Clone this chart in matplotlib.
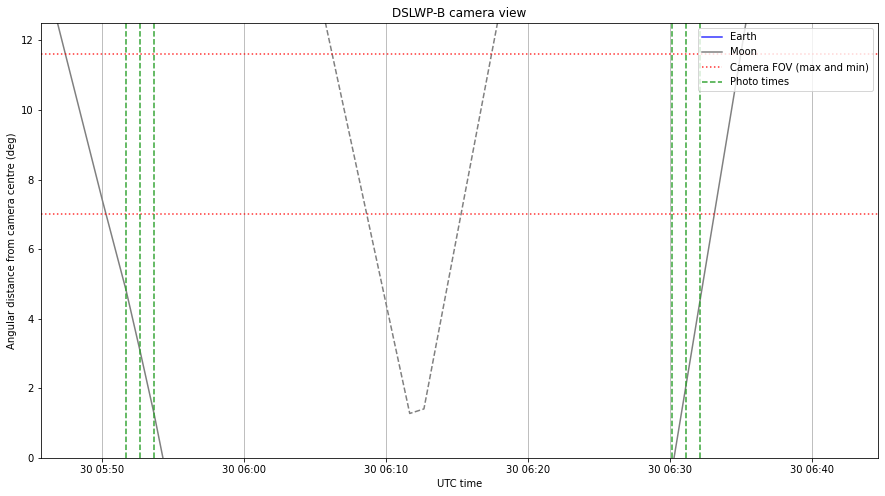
import matplotlib
matplotlib.use("Agg")
import matplotlib.pyplot as plt
import matplotlib.dates as mdates
import pandas as pd

DAY = "2018-06-30 "

# Moon (solid, visible segments)
moon1_times = ["05:46:00", "05:50:00", "05:51:40", "05:52:40", "05:53:40", "05:54:16"]
moon1_vals = [13.84, 7.4, 4.82, 3.05, 1.22, 0.0]
moon2_times = ["06:30:18", "06:36:00"]
moon2_vals = [0.0, 14.06]

# Moon (dashed segment)
moon_dash_times = ["06:04:40", "06:11:40", "06:12:40", "06:18:40"]
moon_dash_vals = [14.5, 1.28, 1.41, 14.24]

# Earth (not in visible range)
earth_times = []
earth_vals = []

fov_vals = [11.6, 7.0]

photo_times = ["05:51:40", "05:52:40", "05:53:40",
               "06:30:10", "06:31:10", "06:32:10"]

xlim_times = ["05:45:40", "06:44:41"]
ylim = (0, 12.5)


def t(lst):
    return pd.to_datetime([DAY + s for s in lst])


plt.rcParams['font.size'] = 10
fig = plt.figure(figsize=(885 / 72, 496 / 72), dpi=72)
ax = fig.add_axes([0.0463, 0.0766, 0.9458, 0.877])

ax.plot(t(earth_times), earth_vals, color='blue', alpha=0.8, label='Earth')
ax.plot(t(moon1_times), moon1_vals, color='gray', label='Moon')
ax.plot(t(moon2_times), moon2_vals, color='gray')
ax.plot(t(moon_dash_times), moon_dash_vals, color='gray', linestyle='--')

for i, v in enumerate(fov_vals):
    ax.axhline(v, color='red', linestyle=':', alpha=0.8,
               label='Camera FOV (max and min)' if i == 0 else None)

for i, pt in enumerate(t(photo_times)):
    ax.axvline(pt, color='C2', linestyle='--', alpha=0.95,
               label='Photo times' if i == 0 else None)

ax.set_xlim(t(xlim_times)[0], t(xlim_times)[1])
ax.set_ylim(*ylim)
ax.xaxis.set_major_locator(mdates.MinuteLocator(byminute=[0, 10, 20, 30, 40, 50]))
ax.xaxis.set_major_formatter(mdates.DateFormatter('%d %H:%M'))
ax.grid(axis='x')
ax.set_xlabel('UTC time')
ax.set_ylabel('Angular distance from camera centre (deg)')
ax.set_title('DSLWP-B camera view')
ax.legend(loc='upper right')

fig.savefig('out.png', dpi=72)
